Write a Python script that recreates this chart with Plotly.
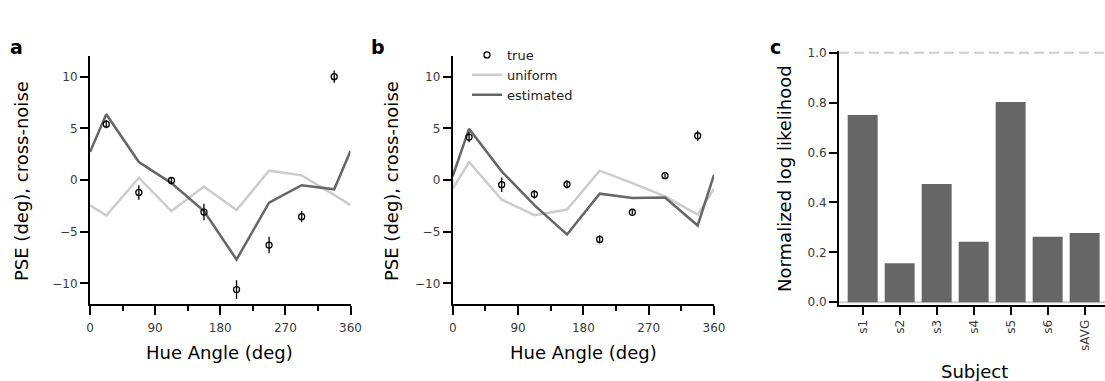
import plotly.graph_objects as go

W, H = 1105, 381

# ---------------- data ----------------
HUES = [22.5, 67.5, 112.5, 157.5, 202.5, 247.5, 292.5, 337.5]
LINE_X = [0, 22.5, 67.5, 112.5, 157.5, 202.5, 247.5, 292.5, 337.5, 360]

A_TRUE = [5.4, -1.2, -0.05, -3.1, -10.6, -6.3, -3.55, 10.0]
A_TRUE_ERR = [0.4, 0.7, 0.35, 0.8, 0.9, 0.8, 0.55, 0.6]
A_UNIFORM = [-2.44, -3.44, 0.22, -3.0, -0.64, -2.9, 0.9, 0.45, -1.44, -2.44]
A_EST = [2.7, 6.37, 1.74, -0.3, -3.0, -7.7, -2.2, -0.5, -0.9, 2.8]

B_TRUE = [4.15, -0.45, -1.38, -0.42, -5.75, -3.12, 0.42, 4.28]
B_TRUE_ERR = [0.5, 0.7, 0.4, 0.4, 0.4, 0.2, 0.2, 0.5]
B_UNIFORM = [-0.85, 1.74, -1.9, -3.4, -2.86, 0.9, -0.3, -1.58, -3.35, -0.85]
B_EST = [0.35, 4.95, 0.84, -2.44, -5.27, -1.32, -1.74, -1.7, -4.4, 0.5]

SUBJECTS = ["s1", "s2", "s3", "s4", "s5", "s6", "sAVG"]
NORM_LL = [0.75, 0.156, 0.474, 0.242, 0.802, 0.262, 0.278]
REF_LEVELS = [0.0, 1.0]

X_TICKS = [0, 90, 180, 270, 360]
Y_TICKS = [-10, -5, 0, 5, 10]

# ---------------- style ----------------
FONT = "DejaVu Sans"
DARK = "#666666"
LIGHT = "#cccccc"
TICKCOL = "#3a3a3a"

fig = go.Figure()

for i, (est, uni, tru, err) in enumerate([(A_EST, A_UNIFORM, A_TRUE, A_TRUE_ERR),
                                          (B_EST, B_UNIFORM, B_TRUE, B_TRUE_ERR)]):
    xa = "x" if i == 0 else "x2"
    ya = "y" if i == 0 else "y2"
    show = i == 1
    fig.add_trace(go.Scatter(x=LINE_X, y=uni, mode="lines", name="uniform",
                             line=dict(color=LIGHT, width=2.5), xaxis=xa, yaxis=ya,
                             showlegend=show, legendrank=2))
    fig.add_trace(go.Scatter(x=LINE_X, y=est, mode="lines", name="estimated",
                             line=dict(color=DARK, width=2.5), xaxis=xa, yaxis=ya,
                             showlegend=show, legendrank=3))
    fig.add_trace(go.Scatter(x=HUES, y=tru, mode="markers", name="true",
                             marker=dict(symbol="circle-open", size=6, color="black",
                                         line=dict(width=1.3, color="black")),
                             error_y=dict(type="data", array=err, visible=True,
                                          color="black", thickness=1.3, width=0),
                             xaxis=xa, yaxis=ya, showlegend=show, legendrank=1))

fig.add_trace(go.Bar(x=SUBJECTS, y=NORM_LL, marker=dict(color=DARK, line=dict(width=0)),
                     width=0.81, xaxis="x3", yaxis="y3", showlegend=False))

ax_common = dict(showline=True, linewidth=2, linecolor="black", showgrid=False,
                 zeroline=False, ticks="outside", tickwidth=2, tickcolor="black",
                 automargin=False,
                 tickfont=dict(family=FONT, size=12, color=TICKCOL))

ydom = [1 - 304 / H, 1 - 56 / H]
xaxis_ab = dict(ax_common, range=[0, 360], tickvals=X_TICKS, ticklen=9,
                ticklabelstandoff=3,
                minor=dict(dtick=45, tick0=0, ticks="outside", ticklen=5,
                           tickwidth=2, tickcolor="black", showgrid=False))
yaxis_ab = dict(ax_common, range=[-12, 12], tickvals=Y_TICKS, ticklen=8)

fig.update_layout(
    template="none",
    width=W, height=H, autosize=False,
    margin=dict(l=0, r=0, t=0, b=0, pad=0),
    paper_bgcolor="white", plot_bgcolor="white",
    font=dict(family=FONT, color="black"),
    xaxis=dict(xaxis_ab, domain=[90 / W, 350.5 / W], anchor="y"),
    yaxis=dict(yaxis_ab, domain=ydom, anchor="x"),
    xaxis2=dict(xaxis_ab, domain=[452.7 / W, 714 / W], anchor="y2"),
    yaxis2=dict(yaxis_ab, domain=ydom, anchor="x2"),
    xaxis3=dict(ax_common, domain=[839 / W, 1.0], anchor="y3", range=[-0.64, 6.55],
                ticklen=8, tickangle=-90, type="category"),
    yaxis3=dict(ax_common, domain=[1 - 305 / H, 1 - 50.7 / H], anchor="x3",
                range=[-0.011, 1.008], dtick=0.2, tick0=0, tickformat=".1f", ticklen=8),
    legend=dict(x=467 / W, y=1 - 40 / H, xanchor="left", yanchor="top",
                bgcolor="rgba(0,0,0,0)", borderwidth=0,
                font=dict(family=FONT, size=13, color="#222222"),
                traceorder="normal"),
    bargap=0.19,
)

# reference lines in panel c
for lvl in REF_LEVELS:
    fig.add_shape(type="line", xref="x3 domain", yref="y3", x0=0, x1=1, y0=lvl, y1=lvl,
                  line=dict(color=LIGHT, width=2, dash="solid" if lvl == 0 else "10px,5px"),
                  layer="below")

def ann(text, x, y, size=18, angle=0, bold=False):
    fig.add_annotation(text=f"<b>{text}</b>" if bold else text, x=x / W, y=1 - y / H,
                       xref="paper", yref="paper", showarrow=False, textangle=angle,
                       xanchor="center", yanchor="middle",
                       font=dict(family=FONT, size=size, color="black"))

ann("a", 16, 47, size=19, bold=True)
ann("b", 378, 47, size=19, bold=True)
ann("c", 775, 47, size=19, bold=True)
ann("Hue Angle (deg)", 220, 352)
ann("Hue Angle (deg)", 583, 352)
ann("Subject", 974, 371)
ann("PSE (deg), cross-noise", 21, 181, angle=-90)
ann("PSE (deg), cross-noise", 391, 181, angle=-90)
ann("Normalized log likelihood", 784, 179, angle=-90)

fig.write_html(
    "out.html",
    config={"displayModeBar": False, "responsive": False},
    post_script="document.body.style.margin='0';document.body.style.overflow='hidden';",
)
